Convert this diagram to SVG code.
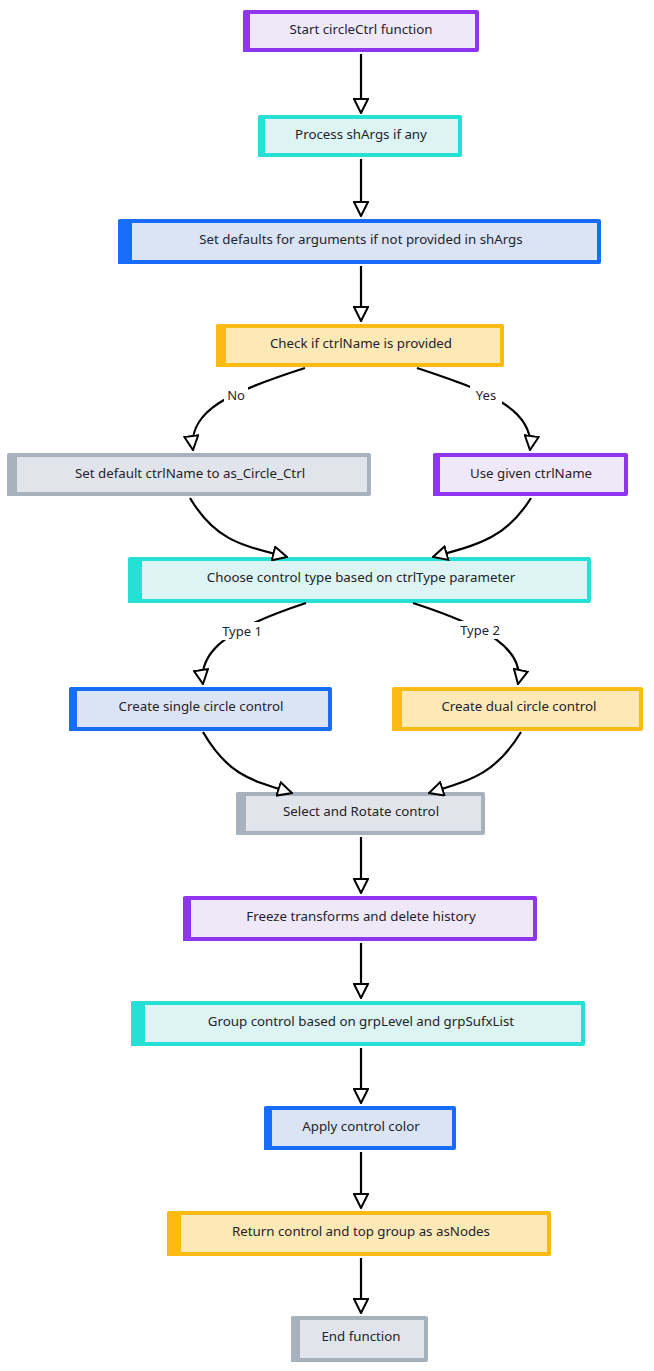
<svg xmlns="http://www.w3.org/2000/svg" width="654" height="1371" viewBox="0 0 654 1371">
<defs>
<style>
.t{font-family:"Noto Sans","Liberation Sans",sans-serif;font-size:13.3px;fill:#1f2329;text-anchor:middle;dominant-baseline:central}
.lbl{font-family:"Noto Sans","Liberation Sans",sans-serif;font-size:13px;fill:#1f2329;text-anchor:middle;dominant-baseline:central}
.e{fill:none;stroke:#000;stroke-width:2.2;marker-end:url(#ah)}
.purple .b{fill:#efe8f9;stroke:#9035ee}
.purple .s{fill:#9035ee}
.cyan .b{fill:#dcf4f3;stroke:#27e0d5}
.cyan .s{fill:#27e0d5}
.blue .b{fill:#dae4f5;stroke:#176cf8}
.blue .s{fill:#176cf8}
.orange .b{fill:#fde9b6;stroke:#fbbb12}
.orange .s{fill:#fbbb12}
.gray .b{fill:#e1e5eb;stroke:#a8b2bd}
.gray .s{fill:#a8b2bd}
.b{stroke-width:4;stroke-linejoin:round}
.lb{fill:#fff}
</style>
<marker id="ah" viewBox="0 0 16 16" refX="15" refY="8" markerWidth="16" markerHeight="16" markerUnits="userSpaceOnUse" orient="auto">
<path d="M1,1 L15,8 L1,15 Z" fill="#fff" stroke="#000" stroke-width="2" stroke-linejoin="miter"/>
</marker>
</defs>
<rect width="654" height="1371" fill="#fff"/>

<g id="n1" class="purple"><rect class="b" x="245" y="12" width="232" height="38"/><rect class="s" x="243" y="11" width="7" height="41"/><text class="t" x="361" y="29">Start circleCtrl function</text></g>
<g id="n2" class="cyan"><rect class="b" x="260" y="117" width="200" height="38"/><rect class="s" x="258" y="116" width="7" height="41"/><text class="t" x="361" y="134">Process shArgs if any</text></g>
<g id="n3" class="blue"><rect class="b" x="120" y="221" width="479" height="41"/><rect class="s" x="118" y="220" width="14" height="44"/><text class="t" x="361" y="239">Set defaults for arguments if not provided in shArgs</text></g>
<g id="n4" class="orange"><rect class="b" x="218" y="326" width="284" height="39"/><rect class="s" x="216" y="325" width="10" height="42"/><text class="t" x="361" y="343">Check if ctrlName is provided</text></g>
<g id="n5" class="gray"><rect class="b" x="9" y="455" width="360" height="39"/><rect class="s" x="7" y="454" width="10" height="42"/><text class="t" x="190" y="473">Set default ctrlName to as_Circle_Ctrl</text></g>
<g id="n6" class="purple"><rect class="b" x="435" y="455" width="191" height="39"/><rect class="s" x="433" y="454" width="7" height="42"/><text class="t" x="531" y="473">Use given ctrlName</text></g>
<g id="n7" class="cyan"><rect class="b" x="130" y="559" width="459" height="42"/><rect class="s" x="128" y="558" width="14" height="45"/><text class="t" x="361" y="577">Choose control type based on ctrlType parameter</text></g>
<g id="n8" class="blue"><rect class="b" x="71" y="689" width="259" height="40"/><rect class="s" x="69" y="688" width="8" height="43"/><text class="t" x="201" y="706">Create single circle control</text></g>
<g id="n9" class="orange"><rect class="b" x="394" y="689" width="247" height="40"/><rect class="s" x="392" y="688" width="10" height="43"/><text class="t" x="519" y="706">Create dual circle control</text></g>
<g id="n10" class="gray"><rect class="b" x="238" y="794" width="245" height="39"/><rect class="s" x="236" y="793" width="10" height="42"/><text class="t" x="361" y="811">Select and Rotate control</text></g>
<g id="n11" class="purple"><rect class="b" x="185" y="898" width="350" height="41"/><rect class="s" x="183" y="897" width="8" height="44"/><text class="t" x="361" y="916">Freeze transforms and delete history</text></g>
<g id="n12" class="cyan"><rect class="b" x="133" y="1003" width="450" height="41"/><rect class="s" x="131" y="1002" width="14" height="44"/><text class="t" x="361" y="1021">Group control based on grpLevel and grpSufxList</text></g>
<g id="n13" class="blue"><rect class="b" x="266" y="1108" width="188" height="40"/><rect class="s" x="264" y="1107" width="8" height="43"/><text class="t" x="361" y="1126">Apply control color</text></g>
<g id="n14" class="orange"><rect class="b" x="169" y="1213" width="380" height="41"/><rect class="s" x="167" y="1212" width="14" height="44"/><text class="t" x="361" y="1231">Return control and top group as asNodes</text></g>
<g id="n15" class="gray"><rect class="b" x="293" y="1318" width="133" height="42"/><rect class="s" x="291" y="1317" width="9" height="45"/><text class="t" x="361" y="1336">End function</text></g>

<g id="connectors">
<path class="e" d="M361,54 L361,113"/>
<path class="e" d="M361,159 L361,216"/>
<path class="e" d="M361,266 L361,321"/>
<path class="e" d="M305,368 C230,392 188,410 193,450"/>
<path class="e" d="M417,368 C490,392 535,410 530,450"/>
<path class="e" d="M190,498 C215,540 240,545 287,557"/>
<path class="e" d="M531,498 C505,540 475,545 433,557"/>
<path class="e" d="M306,603 C230,628 198,650 203,684"/>
<path class="e" d="M413,603 C490,628 525,650 518,684"/>
<path class="e" d="M203,732 C228,775 250,780 292,793"/>
<path class="e" d="M521,732 C495,775 470,780 429,793"/>
<path class="e" d="M361,837 L361,893"/>
<path class="e" d="M361,943 L361,998"/>
<path class="e" d="M361,1048 L361,1103"/>
<path class="e" d="M361,1152 L361,1208"/>
<path class="e" d="M361,1258 L361,1313"/>
<rect class="lb" x="224" y="386" width="24" height="18"/>
<text class="lbl" x="236" y="395">No</text>
<rect class="lb" x="470" y="386" width="32" height="18"/>
<text class="lbl" x="486" y="395">Yes</text>
<rect class="lb" x="220" y="622" width="44" height="18"/>
<text class="lbl" x="242" y="631">Type 1</text>
<rect class="lb" x="457" y="621" width="46" height="18"/>
<text class="lbl" x="480" y="630">Type 2</text>
</g>
</svg>
